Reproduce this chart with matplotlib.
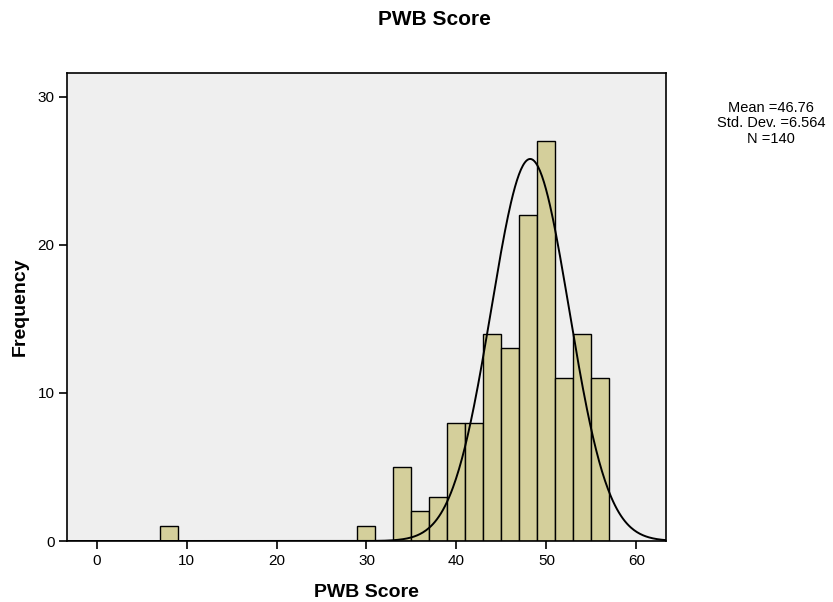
import matplotlib
matplotlib.use("Agg")
import matplotlib.pyplot as plt
import numpy as np

plt.rcParams['font.family'] = ['Liberation Sans', 'DejaVu Sans']

# histogram bins (width 2) and counts
bin_lefts = [7, 29, 33, 35, 37, 39, 41, 43, 45, 47, 49, 51, 53, 55]
counts = [1, 1, 5, 2, 3, 8, 8, 14, 13, 22, 27, 11, 14, 11]
bin_width = 2

# summary stats shown beside the plot
stat_mean = 46.76
stat_sd = 6.564
stat_n = 140

# fitted curve as drawn
curve_mu = 48.2
curve_sigma = 4.33

fig = plt.figure(figsize=(8.33, 6.02), dpi=100)
ax = fig.add_axes([0.0804, 0.1013, 0.7191, 0.7774])
ax.set_facecolor('#EFEFEF')

ax.bar(bin_lefts, counts, width=bin_width, align='edge',
       color='#D4CF9B', edgecolor='black', linewidth=1.0, zorder=2)

xs = np.linspace(-3.3, 63.3, 600)
ys = stat_n * bin_width / (curve_sigma * np.sqrt(2 * np.pi)) * \
    np.exp(-0.5 * ((xs - curve_mu) / curve_sigma) ** 2)
ax.plot(xs, ys, color='black', linewidth=1.4, zorder=3)

ax.set_xlim(-3.3, 63.3)
ax.set_ylim(0, 31.6)
ax.set_xticks([0, 10, 20, 30, 40, 50, 60])
ax.set_yticks([0, 10, 20, 30])
ax.tick_params(direction='out', length=6, width=1.2, labelsize=11, pad=3)
for s in ax.spines.values():
    s.set_linewidth(1.2)

ax.set_xlabel('PWB Score', fontsize=14, fontweight='bold', labelpad=12)
ax.set_ylabel('Frequency', fontsize=14, fontweight='bold', labelpad=6)
fig.text(0.521, 0.967, 'PWB Score', ha='center', va='center',
         fontsize=15, fontweight='bold')

fig.text(0.926, 0.795,
         'Mean =%.2f\nStd. Dev. =%.3f\nN =%d' % (stat_mean, stat_sd, stat_n),
         ha='center', va='center', fontsize=10.5, linespacing=1.1)

fig.savefig('out.png', dpi=100)
